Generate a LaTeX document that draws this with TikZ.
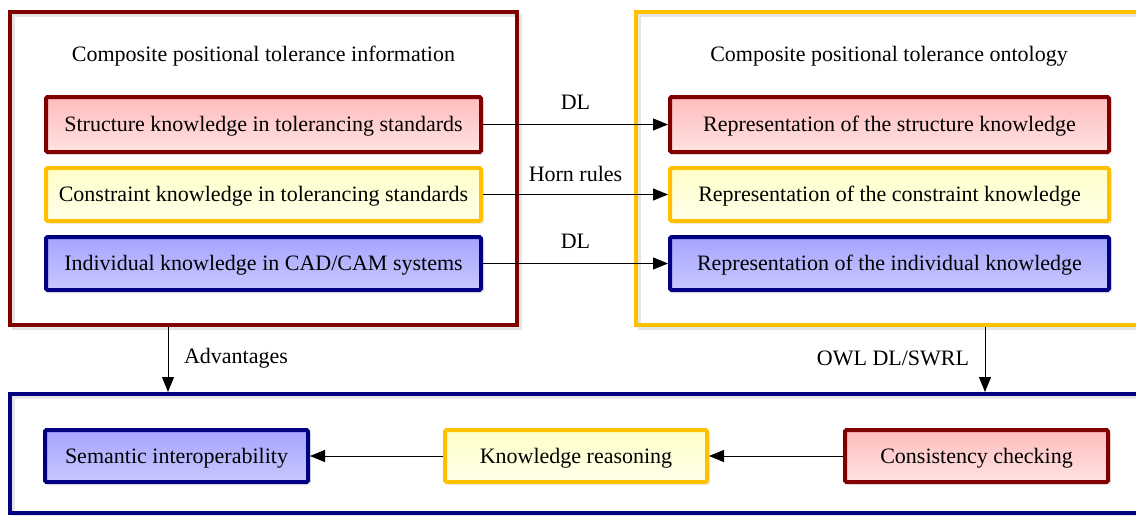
\documentclass[tikz,border=0pt]{standalone}
\usepackage{fontspec}
\setmainfont{Liberation Serif}
\usetikzlibrary{arrows.meta,shadows}
\definecolor{dred}{HTML}{800000}
\definecolor{gold}{HTML}{FFC000}
\definecolor{navy}{HTML}{000080}
\definecolor{redT}{HTML}{FFBCBC}
\definecolor{redB}{HTML}{FFE2E2}
\definecolor{yelT}{HTML}{FFFFC8}
\definecolor{yelB}{HTML}{FFFFEA}
\definecolor{bluT}{HTML}{A4A4FF}
\definecolor{bluB}{HTML}{C8C8FF}
\tikzset{
  every node/.style={font=\fontsize{22}{25}\selectfont, inner sep=0pt},
  kbox/.style={draw, line width=4pt, rounded corners=1.5pt, text height=16pt, text depth=2pt,
    drop shadow={shadow xshift=3pt, shadow yshift=-3pt, fill=black!14}},
  redbox/.style={kbox, draw=dred, top color=redT, bottom color=redB},
  yelbox/.style={kbox, draw=gold, top color=yelT, bottom color=yelB},
  blubox/.style={kbox, draw=navy, top color=bluT, bottom color=bluB},
  arr/.style={-{Triangle[length=15pt,width=12pt]}, line width=1pt, black}
}
\begin{document}
\begin{tikzpicture}[x=1pt,y=-1pt]
\useasboundingbox (0,0) rectangle (1136,515);
\clip (0,0) rectangle (1136,515);
% outer shadows
\draw[black!10, line width=3pt] (13,15) rectangle (520,328);
\draw[black!10, line width=3pt] (639,15) rectangle (1160,328);
\draw[black!10, line width=3pt] (13,397) rectangle (1160,516);
% outer containers
\node[draw=dred, line width=4pt, minimum width=507pt, minimum height=313pt] (L) at (263.5,168.5) {};
\node[draw=gold, line width=4pt, minimum width=520pt, minimum height=313pt] (R) at (896,168.5) {};
\node[draw=navy, line width=4pt, minimum width=1150pt, minimum height=119pt] (B) at (585,453.5) {};
\node (Lt) at (263.5,56) {Composite positional tolerance information};
\node (Rt) at (889,56) {Composite positional tolerance ontology};
% left inner boxes
\node[redbox, minimum width=435pt, minimum height=55pt] (S1) at (263.5,124.5) {Structure knowledge in tolerancing standards};
\node[yelbox, minimum width=435pt, minimum height=53pt] (S2) at (263.5,194.5) {Constraint knowledge in tolerancing standards};
\node[blubox, minimum width=435pt, minimum height=53pt] (S3) at (263.5,263.5) {Individual knowledge in CAD/CAM systems};
% right inner boxes
\node[redbox, minimum width=439pt, minimum height=55pt] (R1) at (889.5,124.5) {Representation of the structure knowledge};
\node[yelbox, minimum width=439pt, minimum height=53pt] (R2) at (889.5,194.5) {Representation of the constraint knowledge};
\node[blubox, minimum width=439pt, minimum height=53pt] (R3) at (889.5,263.5) {Representation of the individual knowledge};
% bottom boxes
\node[blubox, minimum width=263pt, minimum height=52pt] (B1) at (176.5,456) {Semantic interoperability};
\node[yelbox, minimum width=262pt, minimum height=52pt] (B2) at (576,456) {Knowledge reasoning};
\node[redbox, minimum width=263pt, minimum height=52pt] (B3) at (976.5,456) {Consistency checking};
% horizontal connectors
\draw[arr] (S1.east) -- (R1.west) node[midway, above=14pt] (l1) {DL};
\draw[arr] (S2.east) -- (R2.west) node[midway, above=12pt] (l2) {Horn rules};
\draw[arr] (S3.east) -- (R3.west) node[midway, above=14pt] (l3) {DL};
\draw[arr] (B3.west) -- (B2.east);
\draw[arr] (B2.west) -- (B1.east);
% vertical connectors
\coordinate (va) at (168,0);
\coordinate (vb) at (985,0);
\draw[arr] (L.south -| va) -- (B.north -| va);
\draw[arr] (R.south -| vb) -- (B.north -| vb);
\node (adv) at (236,358) {Advantages};
\node (owl) at (893,358) {OWL DL/SWRL};
\end{tikzpicture}
\end{document}
